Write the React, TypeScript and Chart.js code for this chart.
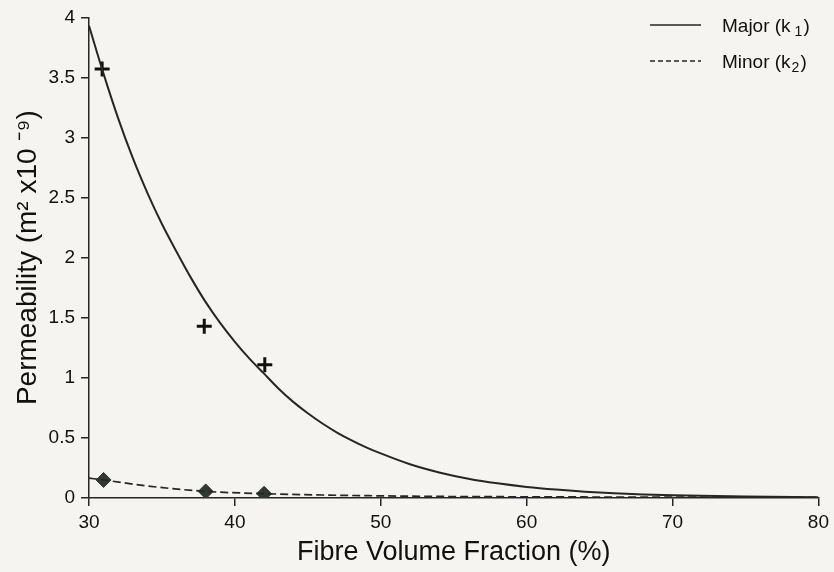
import React, { useEffect, useRef } from "react";
import { Chart, registerables } from "chart.js";

Chart.register(...registerables);

const FONT = '"Liberation Sans", Arial, Helvetica, sans-serif';

// Fitted curve for the major permeability
const majorCurveX = [30, 31, 32, 33, 34, 35, 36, 37, 38, 39, 40, 41, 42, 43, 44, 45, 46, 47, 48, 49, 50, 52, 54, 56, 58, 60, 62, 64, 66, 68, 70, 75, 80];
const majorCurveY = [3.93, 3.53, 3.16, 2.83, 2.54, 2.28, 2.05, 1.83, 1.63, 1.455, 1.3, 1.16, 1.035, 0.91, 0.8, 0.705, 0.62, 0.545, 0.48, 0.422, 0.371, 0.281, 0.213, 0.161, 0.122, 0.092, 0.07, 0.053, 0.04, 0.03, 0.022, 0.012, 0.007];

// Fitted curve for the minor permeability
const minorCurveX = [30, 31, 34, 38, 42, 46, 52, 60, 70, 80];
const minorCurveY = [0.165, 0.15, 0.1, 0.055, 0.036, 0.025, 0.015, 0.01, 0.007, 0.005];

// Experimental values
const majorPointsX = [30.9, 37.9, 42.05];
const majorPointsY = [3.57, 1.43, 1.11];
const minorPointsX = [31, 38, 42];
const minorPointsY = [0.15, 0.055, 0.035];

// Legend
const legendNames = ["Major (k", "Minor (k"];
const legendSubs = ["1", "2"];

const xTitle = "Fibre Volume Fraction (%)";
const yTitle = "Permeability (m\u00B2 x10 \u207B\u2079)";

const BG = "#f6f4f0";
const INK = "#262626";

const zip = (xs: number[], ys: number[]) => xs.map((x, i) => ({ x, y: ys[i] }));

const bgPlugin = {
  id: "bg",
  beforeDraw(chart: any) {
    const { ctx, width, height } = chart;
    ctx.save();
    ctx.fillStyle = BG;
    ctx.fillRect(0, 0, width, height);
    ctx.restore();
  },
};

const legendPlugin = {
  id: "customLegend",
  afterDraw(chart: any) {
    const ctx = chart.ctx as CanvasRenderingContext2D;
    const rows = [
      { y: 25, dash: [] as number[] },
      { y: 61, dash: [5, 3] },
    ];
    ctx.save();
    rows.forEach((r, i) => {
      ctx.strokeStyle = INK;
      ctx.lineWidth = 1.5;
      ctx.setLineDash(r.dash);
      ctx.beginPath();
      ctx.moveTo(650, r.y);
      ctx.lineTo(701, r.y);
      ctx.stroke();
      ctx.setLineDash([]);
      ctx.fillStyle = "#111";
      ctx.textBaseline = "middle";
      ctx.textAlign = "left";
      ctx.font = `19px ${FONT}`;
      const tx = 722;
      const ty = r.y + 2;
      ctx.fillText(legendNames[i], tx, ty);
      const w = ctx.measureText(legendNames[i]).width;
      ctx.font = `14px ${FONT}`;
      const sx = tx + w + (i === 0 ? 4 : 1);
      ctx.fillText(legendSubs[i], sx, ty + 5);
      const sw = ctx.measureText(legendSubs[i]).width;
      ctx.font = `19px ${FONT}`;
      ctx.fillText(")", sx + sw + 1, ty);
    });
    ctx.restore();
  },
};

export default function App() {
  const ref = useRef<HTMLCanvasElement | null>(null);

  useEffect(() => {
    document.body.style.margin = "0";
    document.body.style.background = BG;
    if (!ref.current) return;
    const chart = new Chart(ref.current, {
      type: "line",
      data: {
        datasets: [
          {
            label: "Major (k1)",
            data: zip(majorCurveX, majorCurveY),
            borderColor: INK,
            borderWidth: 2,
            pointRadius: 0,
            cubicInterpolationMode: "monotone",
            fill: false,
          },
          {
            label: "Minor (k2)",
            data: zip(minorCurveX, minorCurveY),
            borderColor: INK,
            borderWidth: 1.7,
            borderDash: [8, 4],
            pointRadius: 0,
            cubicInterpolationMode: "monotone",
            fill: false,
          },
          {
            label: "Major exp",
            data: zip(majorPointsX, majorPointsY),
            showLine: false,
            pointStyle: "cross",
            pointRadius: 7.5,
            pointBorderWidth: 3,
            pointBorderColor: "#111",
            pointBackgroundColor: "#111",
          },
          {
            label: "Minor exp",
            data: zip(minorPointsX, minorPointsY),
            showLine: false,
            pointStyle: "rectRot",
            pointRadius: 7.5,
            pointBorderWidth: 1,
            pointBorderColor: "#2c3631",
            pointBackgroundColor: "#2f3a34",
          },
        ],
      },
      options: {
        responsive: false,
        animation: false,
        maintainAspectRatio: false,
        layout: { padding: { top: 16, right: 15, left: 0, bottom: 0 } },
        plugins: {
          legend: { display: false },
          tooltip: { enabled: false },
        },
        scales: {
          x: {
            type: "linear",
            min: 30,
            max: 80,
            ticks: {
              stepSize: 10,
              color: "#111",
              font: { family: FONT, size: 19 },
              padding: 5,
              callback: (v: any) => String(v),
            },
            grid: {
              display: true,
              drawOnChartArea: false,
              drawTicks: true,
              tickLength: 8,
              color: INK,
              lineWidth: 1.5,
            },
            border: { display: true, color: INK, width: 1.5 },
            title: {
              display: true,
              text: xTitle,
              color: "#111",
              font: { family: FONT, size: 27 },
              padding: { top: 0, bottom: 3 },
            },
            afterFit(scale: any) {
              scale.height = 74;
            },
          },
          y: {
            type: "linear",
            min: 0,
            max: 4,
            ticks: {
              stepSize: 0.5,
              color: "#111",
              font: { family: FONT, size: 19 },
              padding: 6,
              callback: (v: any) => String(v),
            },
            grid: {
              display: true,
              drawOnChartArea: false,
              drawTicks: true,
              tickLength: 8,
              color: INK,
              lineWidth: 1.5,
            },
            border: { display: true, color: INK, width: 1.5 },
            title: {
              display: true,
              text: yTitle,
              color: "#111",
              font: { family: FONT, size: 28 },
              padding: { top: 11, bottom: 0 },
            },
            afterFit(scale: any) {
              scale.width = 89;
            },
          },
        },
      },
      plugins: [bgPlugin, legendPlugin],
    } as any);
    return () => chart.destroy();
  }, []);

  return (
    <div style={{ position: "absolute", left: 0, top: 0, width: 834, height: 572 }}>
      <canvas ref={ref} width={834} height={572} style={{ display: "block", width: 834, height: 572 }} />
    </div>
  );
}
